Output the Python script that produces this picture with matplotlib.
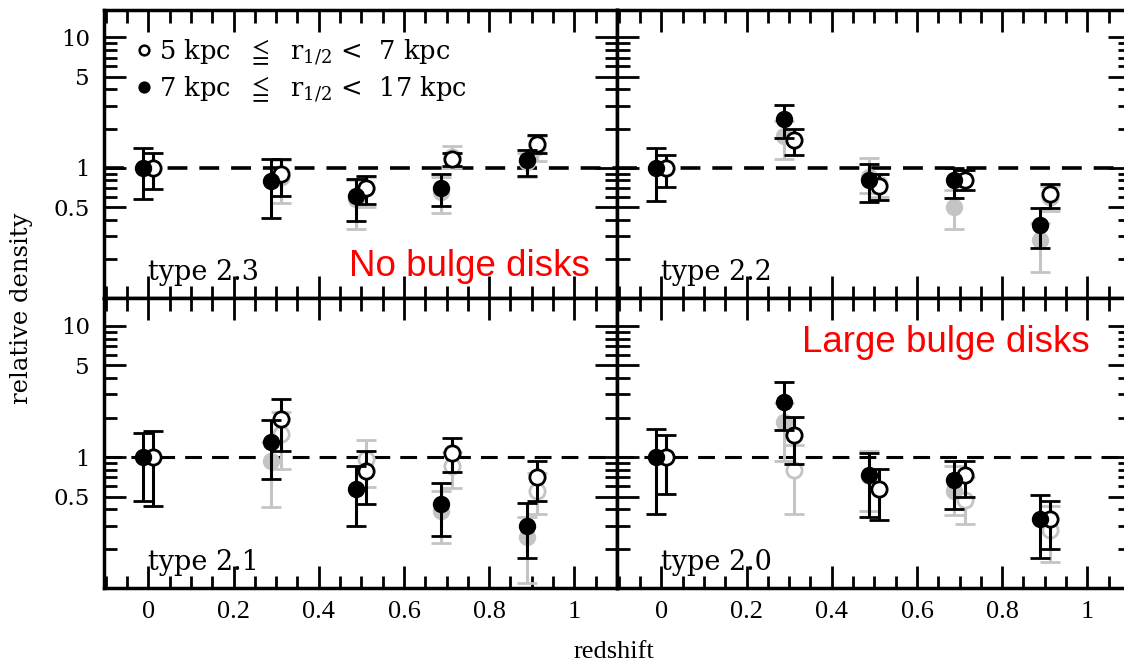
import numpy as np
import matplotlib
matplotlib.use("Agg")
import matplotlib.pyplot as plt
from matplotlib.ticker import FixedLocator, LogLocator, NullFormatter, FixedFormatter, MultipleLocator
from matplotlib.lines import Line2D
from matplotlib.font_manager import FontProperties

nan = np.nan

# ---------------- data ----------------
redshift = [0.0, 0.3, 0.5, 0.7, 0.9]
panel_names = ["type 2.3", "type 2.2", "type 2.1", "type 2.0"]
legend_labels = ["5 kpc  $\\leqq$  r$_{1/2}$ <  7 kpc", "7 kpc  $\\leqq$  r$_{1/2}$ <  17 kpc"]
y_ticks = [0.5, 1, 5, 10]
y_ticklabels = ["0.5", "1", "5", "10"]
x_ticks = [0, 0.2, 0.4, 0.6, 0.8, 1.0]
x_ticklabels = ["0", "0.2", "0.4", "0.6", "0.8", "1"]

# type 2.3
t23_filled = [1.0, 0.79, 0.61, 0.695, 1.14]
t23_filled_lo = [0.573, 0.415, 0.39, 0.51, 0.86]
t23_filled_hi = [1.42, 1.16, 0.82, 0.89, 1.38]
t23_open = [1.0, 0.89, 0.70, 1.17, 1.53]
t23_open_lo = [0.683, 0.61, 0.53, 1.03, 1.30]
t23_open_hi = [1.29, 1.17, 0.87, 1.31, 1.80]
t23_gfilled = [nan, nan, 0.58, 0.65, 1.10]
t23_gfilled_lo = [nan, nan, 0.34, 0.45, 0.85]
t23_gfilled_hi = [nan, nan, 0.80, 0.85, 1.30]
t23_gopen = [nan, 0.85, 0.70, 1.20, 1.45]
t23_gopen_lo = [nan, 0.54, 0.50, 1.00, 1.12]
t23_gopen_hi = [nan, 1.15, 0.85, 1.46, 1.75]

# type 2.2
t22_filled = [1.0, 2.38, 0.80, 0.80, 0.365]
t22_filled_lo = [0.556, 1.69, 0.55, 0.59, 0.245]
t22_filled_hi = [1.42, 3.04, 1.07, 1.00, 0.49]
t22_open = [1.0, 1.62, 0.73, 0.81, 0.625]
t22_open_lo = [0.71, 1.26, 0.57, 0.68, 0.495]
t22_open_hi = [1.26, 1.98, 0.89, 0.96, 0.75]
t22_gfilled = [nan, 1.74, 0.85, 0.50, 0.28]
t22_gfilled_lo = [nan, 1.17, 0.645, 0.34, 0.16]
t22_gfilled_hi = [nan, 2.30, 1.19, 0.68, 0.38]
t22_gopen = [nan, nan, 0.75, nan, 0.60]
t22_gopen_lo = [nan, nan, 0.60, nan, 0.47]
t22_gopen_hi = [nan, nan, 0.90, nan, 0.72]

# type 2.1
t21_filled = [1.0, 1.30, 0.57, 0.44, 0.30]
t21_filled_lo = [0.46, 0.685, 0.30, 0.25, 0.17]
t21_filled_hi = [1.52, 1.93, 0.85, 0.63, 0.45]
t21_open = [1.0, 1.96, 0.78, 1.07, 0.70]
t21_open_lo = [0.42, 1.12, 0.44, 0.77, 0.46]
t21_open_hi = [1.57, 2.76, 1.12, 1.40, 0.93]
t21_gfilled = [nan, 0.94, nan, 0.39, 0.245]
t21_gfilled_lo = [nan, 0.415, nan, 0.22, 0.11]
t21_gfilled_hi = [nan, 1.30, nan, 0.55, 0.35]
t21_gopen = [nan, 1.51, 0.97, 0.86, 0.555]
t21_gopen_lo = [nan, 0.805, 0.59, 0.58, 0.37]
t21_gopen_hi = [nan, 2.20, 1.36, 1.10, 0.75]

# type 2.0
t20_filled = [1.0, 2.63, 0.725, 0.67, 0.34]
t20_filled_lo = [0.37, 1.60, 0.35, 0.40, 0.17]
t20_filled_hi = [1.65, 3.73, 1.07, 0.94, 0.51]
t20_open = [1.0, 1.46, 0.57, 0.725, 0.34]
t20_open_lo = [0.525, 0.89, 0.33, 0.50, 0.20]
t20_open_hi = [1.46, 2.02, 0.805, 0.93, 0.46]
t20_gfilled = [nan, 1.85, 0.72, 0.555, nan]
t20_gfilled_lo = [nan, 0.94, 0.39, 0.36, nan]
t20_gfilled_hi = [nan, 2.60, 1.12, 0.85, nan]
t20_gopen = [nan, 0.79, nan, 0.47, 0.28]
t20_gopen_lo = [nan, 0.365, nan, 0.31, 0.16]
t20_gopen_hi = [nan, 1.23, nan, 0.70, 0.42]

panels = [
    (t23_filled, t23_filled_lo, t23_filled_hi, t23_open, t23_open_lo, t23_open_hi,
     t23_gfilled, t23_gfilled_lo, t23_gfilled_hi, t23_gopen, t23_gopen_lo, t23_gopen_hi),
    (t22_filled, t22_filled_lo, t22_filled_hi, t22_open, t22_open_lo, t22_open_hi,
     t22_gfilled, t22_gfilled_lo, t22_gfilled_hi, t22_gopen, t22_gopen_lo, t22_gopen_hi),
    (t21_filled, t21_filled_lo, t21_filled_hi, t21_open, t21_open_lo, t21_open_hi,
     t21_gfilled, t21_gfilled_lo, t21_gfilled_hi, t21_gopen, t21_gopen_lo, t21_gopen_hi),
    (t20_filled, t20_filled_lo, t20_filled_hi, t20_open, t20_open_lo, t20_open_hi,
     t20_gfilled, t20_gfilled_lo, t20_gfilled_hi, t20_gopen, t20_gopen_lo, t20_gopen_hi),
]

# ---------------- figure ----------------
plt.rcParams['mathtext.fontset'] = 'dejavuserif'
W, H = 1124, 664
fig = plt.figure(figsize=(W / 100, H / 100), dpi=100)

px_left, px_mid, px_right = 104, 617, 1130
px_top, px_hmid, px_bot = 10, 298.3, 588.3
xlims = (-0.104, 1.1)
ylims = (0.1, 16.2)

GRAY = "#c4c4c4"
DODGE = 0.012
serif = ['DejaVu Serif', 'DejaVu Sans']
times = 'Liberation Serif'


def draw(ax, z, val, lo, hi, color, filled, zorder):
    z = np.asarray(z, float)
    val = np.asarray(val, float)
    lo = np.asarray(lo, float)
    hi = np.asarray(hi, float)
    m = ~np.isnan(val)
    if not m.any():
        return
    ax.errorbar(z[m], val[m], yerr=[val[m] - lo[m], hi[m] - val[m]], fmt='o',
                ms=10.5 if filled else 11, mfc=color if filled else 'white',
                mec=color, mew=2.0, ecolor=color, elinewidth=2.2, capsize=7,
                capthick=2.2, zorder=zorder)


axes = []
for i in range(4):
    row, col = divmod(i, 2)
    l = px_left if col == 0 else px_mid
    r = px_mid if col == 0 else px_right
    t = px_top if row == 0 else px_hmid
    b = px_hmid if row == 0 else px_bot
    ax = fig.add_axes([l / W, 1 - b / H, (r - l) / W, (b - t) / H])
    axes.append(ax)
    ax.set_yscale('log')
    ax.set_xlim(*xlims)
    ax.set_ylim(*ylims)
    for s in ax.spines.values():
        s.set_linewidth(2.5)

    ax.yaxis.set_major_locator(FixedLocator(y_ticks))
    ax.yaxis.set_minor_locator(LogLocator(base=10, subs=np.arange(2, 10)))
    ax.yaxis.set_minor_formatter(NullFormatter())
    ax.xaxis.set_major_locator(FixedLocator(x_ticks))
    ax.xaxis.set_minor_locator(MultipleLocator(0.05))
    ax.tick_params(which='both', direction='in', top=True, right=True, width=2.0)
    ax.tick_params(which='major', length=16)
    ax.tick_params(which='minor', length=9)

    if col == 0:
        ax.yaxis.set_major_formatter(FixedFormatter(y_ticklabels))
        for lab in ax.get_yticklabels():
            lab.set_fontfamily(serif)
            lab.set_fontsize(16.5)
        ax.tick_params(axis='y', which='major', pad=10)
    else:
        ax.yaxis.set_major_formatter(NullFormatter())
    if row == 1:
        ax.xaxis.set_major_formatter(FixedFormatter(x_ticklabels))
        for lab in ax.get_xticklabels():
            lab.set_fontfamily(times)
            lab.set_fontsize(19)
        ax.tick_params(axis='x', which='major', pad=9)
    else:
        ax.xaxis.set_major_formatter(NullFormatter())

    ax.axhline(1.0, color='k', lw=2.6 if row == 0 else 2.2, dashes=(5.5, 3.3), zorder=1)

    (f, flo, fhi, o, olo, ohi, gf, gflo, gfhi, go, golo, gohi) = panels[i]
    zf = np.asarray(redshift) - DODGE
    zo = np.asarray(redshift) + DODGE
    draw(ax, zf, gf, gflo, gfhi, GRAY, True, 2)
    draw(ax, zo, go, golo, gohi, GRAY, False, 2)
    draw(ax, zf, f, flo, fhi, 'black', True, 4)
    draw(ax, zo, o, olo, ohi, 'black', False, 3)

    ax.text(0.086, 0.062, panel_names[i], transform=ax.transAxes, fontsize=19.5,
            family=serif, ha='left', va='baseline')

axes[0].text(0.947, 0.077, "No bulge disks", transform=axes[0].transAxes, color='red',
             fontsize=26.5, family='Liberation Sans', ha='right', va='baseline')
axes[3].text(0.921, 0.815, "Large bulge disks", transform=axes[3].transAxes, color='red',
             fontsize=26.5, family='Liberation Sans', ha='right', va='baseline')

handles = [Line2D([], [], ls='none', marker='o', ms=7, mfc='white', mec='k', mew=1.8),
           Line2D([], [], ls='none', marker='o', ms=7, mfc='k', mec='k', mew=1.8)]
axes[0].legend(handles, legend_labels, loc='upper left', bbox_to_anchor=(0.048, 0.94),
               frameon=False, handlelength=0.4, handletextpad=0.4, labelspacing=0.3,
               borderaxespad=0, prop=FontProperties(family=serif, size=18.5))

fig.text(22 / W, 1 - 308 / H, "relative density", rotation=90, ha='center', va='center',
         fontsize=17.5, family=serif)
fig.text(614 / W, 1 - 652 / H, "redshift", ha='center', va='center',
         fontsize=19, family=times)

fig.savefig("out.png", dpi=100)
